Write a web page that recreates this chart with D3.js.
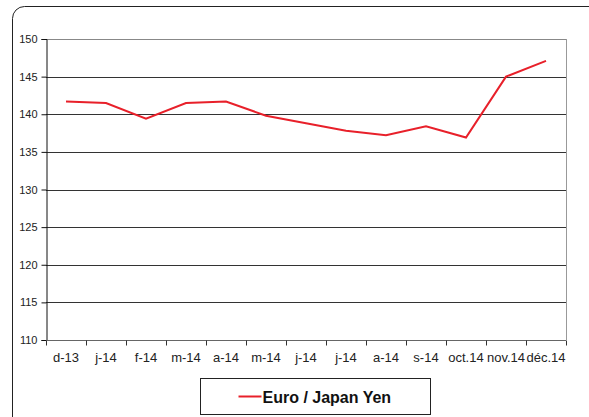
<!DOCTYPE html>
<html>
<head>
<meta charset="utf-8">
<script src="https://cdn.jsdelivr.net/npm/d3@7"></script>
<style>
  body { margin: 0; background: #fff; }
  svg { display: block; font-family: Arial, "Liberation Sans", sans-serif; }
</style>
</head>
<body>
<div id="chart"></div>
<script>
const width = 589
const height = 417
const margin = { top: 39, right: 23, bottom: 77, left: 46 }

const months = ["d-13", "j-14", "f-14", "m-14", "a-14", "m-14", "j-14", "j-14", "a-14", "s-14", "oct.14", "nov.14", "déc.14"]
const rates = [141.7, 141.5, 139.4, 141.5, 141.7, 139.8, 138.8, 137.8, 137.2, 138.4, 136.9, 145.0, 147.1]
const yTicks = [110, 115, 120, 125, 130, 135, 140, 145, 150]
const seriesName = "Euro / Japan Yen"

const innerW = width - margin.left - margin.right
const innerH = height - margin.top - margin.bottom

const svg = d3.select("div#chart").append("svg").attr("width", width).attr("height", height)

// outer rounded frame
svg.append("rect")
    .attr("x", 12.5).attr("y", 6.5)
    .attr("width", 600).attr("height", 440)
    .attr("rx", 12)
    .attr("fill", "none").attr("stroke", "#222").attr("stroke-width", 1)

const g = svg.append("g").attr("transform", `translate(${margin.left}, ${margin.top})`)

// index-based band scale (labels repeat)
const x = d3.scaleBand().domain(d3.range(months.length)).range([0, innerW])
const y = d3.scaleLinear().domain([110, 150]).range([innerH, 0])

// gridlines
g.selectAll("line.grid").data(yTicks.filter(t => t > 110)).enter()
    .append("line").attr("class", "grid")
    .attr("x1", 0).attr("x2", innerW)
    .attr("y1", d => Math.round(y(d)) + 0.5).attr("y2", d => Math.round(y(d)) + 0.5)
    .attr("stroke", d => d === 150 ? "#888" : "#333").attr("stroke-width", 1)

// right border of plot area
g.append("line")
    .attr("x1", innerW + 0.5).attr("x2", innerW + 0.5)
    .attr("y1", 0).attr("y2", innerH)
    .attr("stroke", "#999")

// y axis
const yAxis = d3.axisLeft(y).tickValues(yTicks).tickSize(5).tickPadding(4)
const yAxisGroup = g.append("g").attr("transform", "translate(0.5,0)").call(yAxis)
yAxisGroup.select(".domain").attr("stroke", "#111")
yAxisGroup.selectAll(".tick line").attr("stroke", "#111")
yAxisGroup.selectAll("text").attr("font-size", 11).attr("fill", "#222").attr("font-family", "Arial, 'Liberation Sans', sans-serif")

// x axis
const xAxisGroup = g.append("g").attr("transform", `translate(0, ${Math.round(innerH) + 0.5})`)
xAxisGroup.append("line").attr("x1", 0).attr("x2", innerW).attr("stroke", "#666")
xAxisGroup.selectAll("line.tick").data(d3.range(months.length + 1)).enter()
    .append("line").attr("class", "tick")
    .attr("x1", d => Math.round(d * x.step()) + 0.5).attr("x2", d => Math.round(d * x.step()) + 0.5)
    .attr("y1", 0).attr("y2", 5).attr("stroke", "#333")
xAxisGroup.selectAll("text").data(months).enter()
    .append("text")
    .attr("x", (d, i) => x(i) + x.bandwidth() / 2)
    .attr("y", 21)
    .attr("text-anchor", "middle")
    .attr("font-size", 13).attr("fill", "#222")
    .text(d => d)

// line
const line = d3.line().x((d, i) => x(i) + x.bandwidth() / 2).y(d => y(d))
g.append("path").datum(rates)
    .attr("d", line)
    .attr("fill", "none").attr("stroke", "#e8202a").attr("stroke-width", 2)

// legend
const legend = svg.append("g").attr("transform", "translate(200.5, 378.5)")
legend.append("rect").attr("width", 230).attr("height", 36)
    .attr("fill", "#fff").attr("stroke", "#222")
legend.append("line").attr("x1", 38).attr("x2", 61).attr("y1", 18).attr("y2", 18)
    .attr("stroke", "#e8202a").attr("stroke-width", 2)
legend.append("text").attr("x", 62).attr("y", 24)
    .attr("font-size", 16).attr("font-weight", "bold").attr("fill", "#111")
    .text(seriesName)
</script>
</body>
</html>
